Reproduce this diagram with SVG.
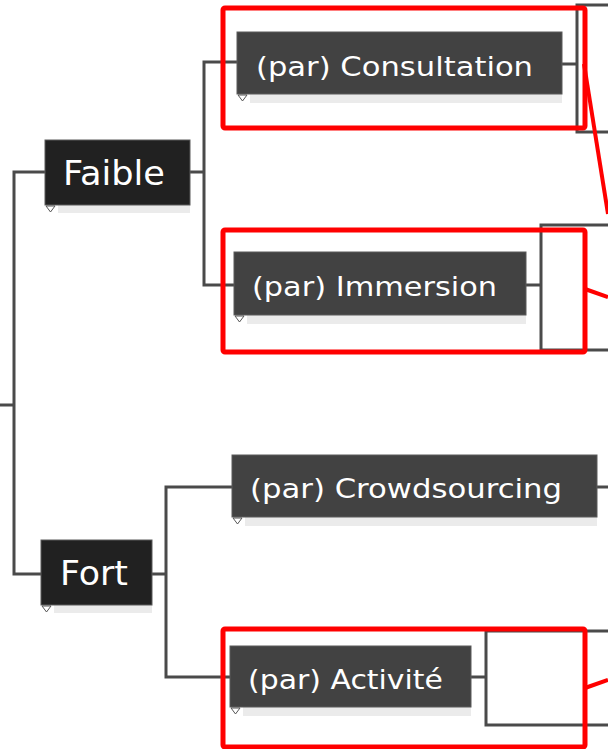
<svg xmlns="http://www.w3.org/2000/svg" width="608" height="749" viewBox="0 0 608 749">
<style>
.bg{fill:#ffffff}
.conn{fill:none;stroke:#4a4a4a;stroke-width:3;stroke-linecap:square;stroke-linejoin:miter}
.main{fill:#212121;stroke:#5a5a5a;stroke-width:1}
.sub{fill:#424242;stroke:#5a5a5a;stroke-width:1}
.shadow{fill:#ebebeb}
.tri{fill:#ffffff;stroke:#555555;stroke-width:1}
.big{font-family:"DejaVu Sans","Open Sans",sans-serif;font-size:33px;fill:#ffffff}
.lbl{font-family:"DejaVu Sans","Open Sans",sans-serif;font-size:27px;fill:#ffffff}
.hl{fill:none;stroke:#ff0000;stroke-width:5;stroke-linejoin:round}
.hline{fill:none;stroke:#ff0000;stroke-width:4}
</style>
<rect class="bg" x="0" y="0" width="608" height="749"/>
<g id="connectors">
<path class="conn" d="M0 405 H14 M14 172 V574 M14 172 H45 M14 574 H41"/>
<path class="conn" d="M190 172 H204 M204 62 V285 M204 62 H237 M204 285 H234"/>
<path class="conn" d="M152 574 H166 M166 487 V677 M166 487 H232 M166 677 H230"/>
<path class="conn" d="M562 64 H577 M577 5 V132 M577 5 H610 M577 132 H610"/>
<path class="conn" d="M526 285 H541 M541 225 V350 M541 225 H610 M541 350 H610"/>
<path class="conn" d="M597 487 H610"/>
<path class="conn" d="M471 677 H486 M486 631 V725 M486 631 H610 M486 725 H610"/>
</g>
<g id="node-faible">
<rect class="shadow" x="58" y="205" width="132" height="8"/>
<rect class="main" x="45" y="140" width="145" height="65"/>
<polygon class="tri" points="46,206 55,206 50.5,212"/>
<text class="big" x="63" y="185" textLength="102" lengthAdjust="spacingAndGlyphs">Faible</text>
</g>
<g id="node-fort">
<rect class="shadow" x="54" y="605" width="98" height="8"/>
<rect class="main" x="41" y="540" width="111" height="65"/>
<polygon class="tri" points="42,606 51,606 46.5,612"/>
<text class="big" x="60" y="585" textLength="68" lengthAdjust="spacingAndGlyphs">Fort</text>
</g>
<g id="node-consultation">
<rect class="shadow" x="250" y="94" width="312" height="9"/>
<rect class="sub" x="237" y="32" width="325" height="62"/>
<polygon class="tri" points="238,95 247,95 242.5,101"/>
<text class="lbl" x="256" y="76" textLength="277" lengthAdjust="spacingAndGlyphs">(par) Consultation</text>
</g>
<g id="node-immersion">
<rect class="shadow" x="247" y="315" width="279" height="9"/>
<rect class="sub" x="234" y="252" width="292" height="63"/>
<polygon class="tri" points="235,316 244,316 239.5,322"/>
<text class="lbl" x="252" y="296" textLength="245" lengthAdjust="spacingAndGlyphs">(par) Immersion</text>
</g>
<g id="node-crowdsourcing">
<rect class="shadow" x="245" y="517" width="352" height="9"/>
<rect class="sub" x="232" y="455" width="365" height="62"/>
<polygon class="tri" points="233,518 242,518 237.5,524"/>
<text class="lbl" x="250" y="498" textLength="312" lengthAdjust="spacingAndGlyphs">(par) Crowdsourcing</text>
</g>
<g id="node-activite">
<rect class="shadow" x="243" y="707" width="228" height="9"/>
<rect class="sub" x="230" y="646" width="241" height="61"/>
<polygon class="tri" points="231,708 240,708 235.5,714"/>
<text class="lbl" x="248" y="689" textLength="195" lengthAdjust="spacingAndGlyphs">(par) Activité</text>
</g>
<g id="highlights">
<rect class="hl" x="223" y="8" width="362" height="120" rx="2"/>
<rect class="hl" x="223" y="230" width="362" height="122" rx="2"/>
<rect class="hl" x="223" y="629" width="362" height="118" rx="2"/>
<path class="hline" d="M584 64 L608 214"/>
<path class="hline" d="M585 289 L608 297"/>
<path class="hline" d="M585 688 L608 680"/>
</g>
</svg>
